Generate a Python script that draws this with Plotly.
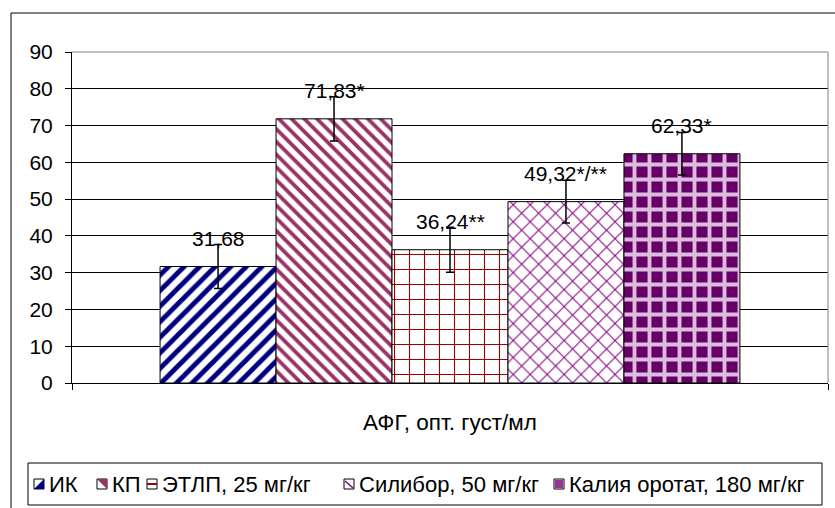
import plotly.graph_objects as go

# ---- data ----
category = ["АФГ, опт. густ/мл"]
series_names = ["ИК", "КП", "ЭТЛП, 25 мг/кг", "Силибор, 50 мг/кг", "Калия оротат, 180 мг/кг"]
values = [31.68, 71.83, 36.24, 49.32, 62.33]
errors = [6.0, 6.0, 6.1, 5.8, 5.8]
labels = ["31,68", "71,83*", "36,24**", "49,32*/**", "62,33*"]
y_ticks = [0, 10, 20, 30, 40, 50, 60, 70, 80, 90]

# ---- styles ----
W, H = 835, 508
ML, MR, MT, MB = 72, 7, 52, 125
PW, PH = W - ML - MR, H - MT - MB
BARGAP = 0.233
FONT = "Arial, 'Liberation Sans', sans-serif"
FS = 21
FS_TITLE = 22.5
FS_LEG = 22

patterns = [
    dict(shape="/", fgcolor="#000080", bgcolor="white", size=11, solidity=0.45),
    dict(shape="\\", fgcolor="#993366", bgcolor="white", size=9, solidity=0.42),
    dict(shape="+", fgcolor="#990000", bgcolor="white", size=15, solidity=0.14),
    dict(shape="x", fgcolor="#800080", bgcolor="white", size=12, solidity=0.16),
    dict(shape="+", fgcolor="#dcbcdc", bgcolor="#660066", size=15, solidity=0.45),
]
swatch_colors = ["#000080", "#993366", "#990000", "#800080", "#993399"]

fig = go.Figure()
for i, name in enumerate(series_names):
    fig.add_trace(go.Bar(
        x=category, y=[values[i]], name=name,
        marker=dict(color="white", line=dict(color="black", width=1),
                    pattern=dict(fillmode="replace", **patterns[i])),
        error_y=dict(type="data", array=[errors[i]], color="black", thickness=1.5, width=4),
        showlegend=False,
    ))

def px_x(px):
    return (px - ML) / PW

def px_y(py):
    return (H - MB - py) / PH

shapes = []
annotations = []

# data labels above bars
barw = PW * (1 - BARGAP) / len(series_names)
for i, lab in enumerate(labels):
    annotations.append(dict(
        x=category[0], y=values[i], xref="x", yref="y", text=lab, showarrow=False,
        xshift=(i - (len(series_names) - 1) / 2) * barw, yshift=28,
        font=dict(family=FONT, size=FS, color="black"), yanchor="middle", xanchor="center",
    ))

# outer chart border
shapes.append(dict(type="rect", xref="paper", yref="paper",
                   x0=px_x(11), x1=px_x(845), y0=px_y(13), y1=px_y(520),
                   line=dict(color="black", width=1), fillcolor="rgba(0,0,0,0)", layer="below"))
# plot-area border (top and right, gray)
shapes.append(dict(type="line", xref="paper", yref="paper", x0=0, x1=1, y0=1, y1=1,
                   line=dict(color="#808080", width=1), layer="above"))
shapes.append(dict(type="line", xref="paper", yref="paper", x0=1, x1=1, y0=1, y1=0,
                   line=dict(color="#808080", width=1), layer="above"))

# custom legend
leg_top, leg_bot = 463, 505
shapes.append(dict(type="rect", xref="paper", yref="paper",
                   x0=px_x(28), x1=px_x(822), y0=px_y(leg_top), y1=px_y(leg_bot),
                   line=dict(color="black", width=1), fillcolor="white"))
text_x = [47, 110, 160, 357, 567]
cy = (leg_top + leg_bot) / 2
for i, name in enumerate(series_names):
    sx1 = text_x[i] - 3
    sx0 = sx1 - 10
    sy0, sy1 = cy - 5, cy + 5
    c = swatch_colors[i]
    shapes.append(dict(type="rect", xref="paper", yref="paper",
                       x0=px_x(sx0), x1=px_x(sx1), y0=px_y(sy0), y1=px_y(sy1),
                       line=dict(color="black", width=1), fillcolor="white"))
    if i == 0:
        path = f"M {px_x(sx0)},{px_y(sy1)} L {px_x(sx1)},{px_y(sy0)} L {px_x(sx1)},{px_y(sy1)} Z"
        shapes.append(dict(type="path", xref="paper", yref="paper", path=path, fillcolor=c, line=dict(width=0)))
    elif i == 1:
        path = f"M {px_x(sx0)},{px_y(sy0)} L {px_x(sx1)},{px_y(sy1)} L {px_x(sx1)},{px_y(sy0)} Z"
        shapes.append(dict(type="path", xref="paper", yref="paper", path=path, fillcolor=c, line=dict(width=0)))
    elif i == 2:
        shapes.append(dict(type="line", xref="paper", yref="paper", x0=px_x(sx0), x1=px_x(sx1),
                           y0=px_y(cy), y1=px_y(cy), line=dict(color=c, width=2)))
    elif i == 3:
        shapes.append(dict(type="line", xref="paper", yref="paper", x0=px_x(sx0 + 1), x1=px_x(sx1 - 1),
                           y0=px_y(sy0 + 2), y1=px_y(sy1 - 1), line=dict(color=c, width=1.5)))
    else:
        shapes.append(dict(type="rect", xref="paper", yref="paper", x0=px_x(sx0 + 1), x1=px_x(sx1 - 1),
                           y0=px_y(sy0 + 1), y1=px_y(sy1 - 1), line=dict(width=0), fillcolor=c))
    annotations.append(dict(x=px_x(text_x[i]), y=px_y(cy), xref="paper", yref="paper",
                            text=name, showarrow=False, xanchor="left", yanchor="middle",
                            font=dict(family=FONT, size=FS_LEG, color="black")))

fig.update_layout(
    width=W, height=H,
    margin=dict(l=ML, r=MR, t=MT, b=MB, pad=0),
    paper_bgcolor="white", plot_bgcolor="white",
    barmode="group", bargap=BARGAP, bargroupgap=0,
    font=dict(family=FONT, size=FS, color="black"),
    showlegend=False,
    shapes=shapes, annotations=annotations,
    xaxis=dict(type="category", showline=True, linecolor="black", linewidth=1,
               ticks="outside", tickson="boundaries", ticklen=6, tickcolor="black",
               showgrid=False, ticklabelstandoff=19,
               tickfont=dict(family=FONT, size=FS_TITLE, color="black")),
    yaxis=dict(range=[0, 90], tickvals=y_ticks, ticktext=[str(v) for v in y_ticks],
               showline=True, linecolor="black", linewidth=1,
               ticks="outside", ticklen=6, tickcolor="black",
               showgrid=True, gridcolor="black", gridwidth=1, zeroline=False,
               ticklabelstandoff=8,
               tickfont=dict(family=FONT, size=FS, color="black")),
)

fig.write_html("out.html", config={"displayModeBar": False},
               post_script="document.body.style.margin='0px';document.body.style.overflow='hidden';")
